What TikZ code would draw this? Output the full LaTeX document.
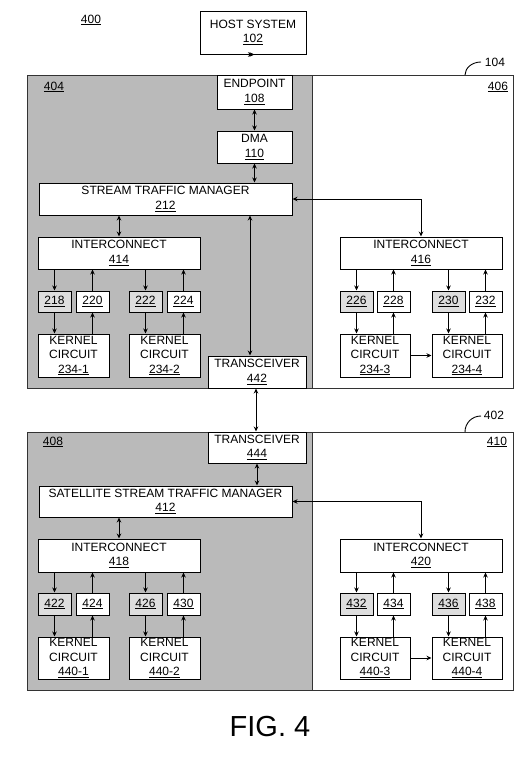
\documentclass[tikz,border=0pt]{standalone}
\usepackage{fontspec}
\setmainfont{Liberation Sans}
\usetikzlibrary{arrows.meta}
\newcommand\ul[1]{\underline{#1}}
\tikzset{
  box/.style={draw=black, line width=1pt, fill=white, inner sep=0pt, align=center,
    font=\fontsize{12}{14.5}\selectfont},
  sbox/.style={box, fill=black!13},
  region/.style={draw=black!80, line width=1pt},
  shade/.style={fill=black!27},
  lbl/.style={inner sep=0pt, font=\fontsize{12}{14.5}\selectfont},
  tipa/.tip={Stealth[length=5pt,width=4.5pt]},
  arr/.style={line width=1pt, -tipa},
  dbl/.style={line width=1pt, tipa-tipa},
}
\begin{document}
\begin{tikzpicture}[x=1pt,y=-1pt]
\useasboundingbox[fill=white] (0,0) rectangle (530,758);
% ---------- top region
\fill[shade] (27,75) rectangle (312,388);
\draw[region] (27,75) rectangle (513,388);
\draw[black!80, line width=0.8pt] (312,75) -- (312,388);
% ---------- bottom region
\fill[shade] (27,432) rectangle (312,690);
\draw[region] (27,432) rectangle (513,690);
\draw[black!80, line width=0.8pt] (312,432) -- (312,690);

% labels
\node[lbl] (l400) at (91,20) {\ul{400}};
\node[lbl] (l404) at (54,87) {\ul{404}};
\node[lbl] (l406) at (498,87) {\ul{406}};
\node[lbl] (l104) at (495,62) {104};
\node[lbl] (l408) at (53,442) {\ul{408}};
\node[lbl] (l410) at (497,442) {\ul{410}};
\node[lbl] (l402) at (494,415) {402};
\node[inner sep=0pt, font=\fontsize{29}{30}\selectfont] (fig) at (270,727) {FIG. 4};
\coordinate (c104a) at (465,75);
\coordinate (c104b) at (481,62);
\draw[line width=0.9pt] (c104a) .. controls (465,68) and (472,62) .. (c104b);
\coordinate (c402a) at (465,432);
\coordinate (c402b) at (481,416);
\draw[line width=0.9pt] (c402a) .. controls (465,423) and (472,416) .. (c402b);

% ---------- top nodes
\node[box, minimum width=106pt, minimum height=43pt] (host) at (253,32.5) {HOST SYSTEM\\\ul{102}};
\node[box, minimum width=75pt, minimum height=34pt] (ep) at (254.5,92) {ENDPOINT\\\ul{108}};
\node[box, minimum width=75pt, minimum height=32pt] (dma) at (254.5,147) {DMA\\\ul{110}};
\node[box, minimum width=253pt, minimum height=32pt] (stm) at (165.5,199) {STREAM TRAFFIC MANAGER\\\ul{212}};
\node[box, minimum width=162pt, minimum height=32pt] (ic414) at (119,253) {INTERCONNECT\\\ul{414}};
\node[sbox, minimum width=33pt, minimum height=21pt] (b218) at (54.5,301.5) {\ul{218}};
\node[box, minimum width=33pt, minimum height=21pt] (b220) at (92.5,301.5) {\ul{220}};
\node[sbox, minimum width=33pt, minimum height=21pt] (b222) at (145.5,301.5) {\ul{222}};
\node[box, minimum width=33pt, minimum height=21pt] (b224) at (183.5,301.5) {\ul{224}};
\node[box, minimum width=71pt, minimum height=43pt] (k1) at (73.5,355.5) {KERNEL\\CIRCUIT\\\ul{234-1}};
\node[box, minimum width=71pt, minimum height=43pt] (k2) at (164.5,355.5) {KERNEL\\CIRCUIT\\\ul{234-2}};
\node[box, minimum width=98pt, minimum height=32pt] (tr442) at (257,372) {TRANSCEIVER\\\ul{442}};
\node[box, minimum width=162pt, minimum height=32pt] (ic416) at (421,253) {INTERCONNECT\\\ul{416}};
\node[sbox, minimum width=33pt, minimum height=21pt] (b226) at (356.5,301.5) {\ul{226}};
\node[box, minimum width=33pt, minimum height=21pt] (b228) at (393.5,301.5) {\ul{228}};
\node[sbox, minimum width=33pt, minimum height=21pt] (b230) at (448.5,301.5) {\ul{230}};
\node[box, minimum width=33pt, minimum height=21pt] (b232) at (485.5,301.5) {\ul{232}};
\node[box, minimum width=70pt, minimum height=43pt] (k3) at (375,355.5) {KERNEL\\CIRCUIT\\\ul{234-3}};
\node[box, minimum width=70pt, minimum height=43pt] (k4) at (467,355.5) {KERNEL\\CIRCUIT\\\ul{234-4}};

% ---------- bottom nodes
\node[box, minimum width=98pt, minimum height=31pt] (tr444) at (257,447.5) {TRANSCEIVER\\\ul{444}};
\node[box, minimum width=253pt, minimum height=31pt] (sstm) at (165.5,501.5) {SATELLITE STREAM TRAFFIC MANAGER\\\ul{412}};
\node[box, minimum width=162pt, minimum height=33pt] (ic418) at (119,555.5) {INTERCONNECT\\\ul{418}};
\node[sbox, minimum width=33pt, minimum height=22pt] (b422) at (54.5,604) {\ul{422}};
\node[box, minimum width=33pt, minimum height=22pt] (b424) at (92.5,604) {\ul{424}};
\node[sbox, minimum width=33pt, minimum height=22pt] (b426) at (145.5,604) {\ul{426}};
\node[box, minimum width=33pt, minimum height=22pt] (b430) at (183.5,604) {\ul{430}};
\node[box, minimum width=71pt, minimum height=42pt] (k5) at (73.5,658) {KERNEL\\CIRCUIT\\\ul{440-1}};
\node[box, minimum width=71pt, minimum height=42pt] (k6) at (164.5,658) {KERNEL\\CIRCUIT\\\ul{440-2}};
\node[box, minimum width=162pt, minimum height=33pt] (ic420) at (421,555.5) {INTERCONNECT\\\ul{420}};
\node[sbox, minimum width=33pt, minimum height=22pt] (b432) at (356.5,604) {\ul{432}};
\node[box, minimum width=33pt, minimum height=22pt] (b434) at (393.5,604) {\ul{434}};
\node[sbox, minimum width=33pt, minimum height=22pt] (b436) at (448.5,604) {\ul{436}};
\node[box, minimum width=33pt, minimum height=22pt] (b438) at (485.5,604) {\ul{438}};
\node[box, minimum width=70pt, minimum height=42pt] (k7) at (375,658) {KERNEL\\CIRCUIT\\\ul{440-3}};
\node[box, minimum width=70pt, minimum height=42pt] (k8) at (467,658) {KERNEL\\CIRCUIT\\\ul{440-4}};

% ---------- top connectors
\draw[dbl] (host.south) -- (host.south -| ep.north);
\draw[dbl] (ep.south) -- (dma.north);
\draw[dbl] (dma.south) -- (dma.south |- stm.north);
\draw[dbl] (ic414.north |- stm.south) -- (ic414.north);
\draw[dbl] (stm.south -| 250,0) -- (tr442.north -| 250,0);
\draw[dbl] (stm.east) -| (ic416.north);
\draw[dbl] (tr442.south -| 256,0) -- (tr444.north -| 256,0);
\foreach \d/\u in {b218/b220, b222/b224}{
  \draw[arr] (ic414.south -| \d.north) -- (\d.north);
  \draw[arr] (\u.north) -- (ic414.south -| \u.north);
}
\draw[arr] (b218.south) -- (b218.south |- k1.north);
\draw[arr] (b220.south |- k1.north) -- (b220.south);
\draw[arr] (b222.south) -- (b222.south |- k2.north);
\draw[arr] (b224.south |- k2.north) -- (b224.south);
\foreach \d/\u in {b226/b228, b230/b232}{
  \draw[arr] (ic416.south -| \d.north) -- (\d.north);
  \draw[arr] (\u.north) -- (ic416.south -| \u.north);
}
\draw[arr] (b226.south) -- (b226.south |- k3.north);
\draw[arr] (b228.south |- k3.north) -- (b228.south);
\draw[arr] (b230.south) -- (b230.south |- k4.north);
\draw[arr] (b232.south |- k4.north) -- (b232.south);
\draw[arr] (k3.east) -- (k4.west);

% ---------- bottom connectors
\draw[dbl] (tr444.south) -- (tr444.south |- sstm.north);
\draw[dbl] (ic418.north |- sstm.south) -- (ic418.north);
\draw[dbl] (sstm.east) -| (ic420.north);
\foreach \d/\u in {b422/b424, b426/b430}{
  \draw[arr] (ic418.south -| \d.north) -- (\d.north);
  \draw[arr] (\u.north) -- (ic418.south -| \u.north);
}
\draw[arr] (b422.south) -- (b422.south |- k5.north);
\draw[arr] (b424.south |- k5.north) -- (b424.south);
\draw[arr] (b426.south) -- (b426.south |- k6.north);
\draw[arr] (b430.south |- k6.north) -- (b430.south);
\foreach \d/\u in {b432/b434, b436/b438}{
  \draw[arr] (ic420.south -| \d.north) -- (\d.north);
  \draw[arr] (\u.north) -- (ic420.south -| \u.north);
}
\draw[arr] (b432.south) -- (b432.south |- k7.north);
\draw[arr] (b434.south |- k7.north) -- (b434.south);
\draw[arr] (b436.south) -- (b436.south |- k8.north);
\draw[arr] (b438.south |- k8.north) -- (b438.south);
\draw[arr] (k7.east) -- (k8.west);
\end{tikzpicture}
\end{document}
